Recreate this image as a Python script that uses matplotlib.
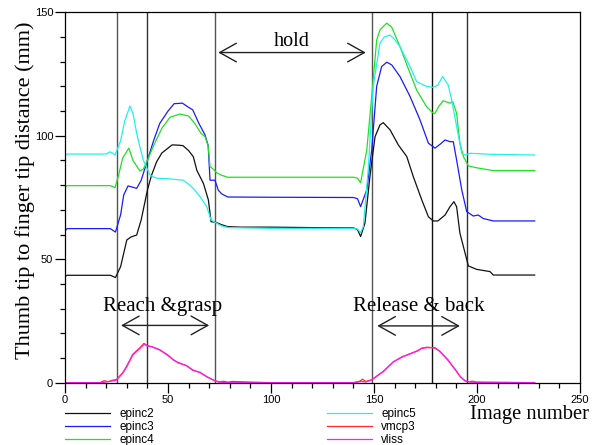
import matplotlib
matplotlib.use("Agg")
import matplotlib.pyplot as plt

# ---------------- data ----------------
epinc2_x = [0, 1, 22, 24.5, 27, 30, 32, 34.8, 37, 40, 42, 44.5, 47, 50, 52, 55, 57.3, 60, 62.3, 64,
            67.2, 69.6, 70.9, 73, 76, 79, 85, 100, 120, 140, 142, 143.5, 145.6, 148, 150.5, 152.9,
            154.5, 157.8, 161.8, 165.9, 169.1, 173.2, 176.4, 178.8, 181, 184.5, 186.9, 188.8, 190.1,
            191.7, 193.4, 195.8, 199.8, 206.3, 207.9, 228]
epinc2_y = [43, 43.5, 43.5, 42.6, 47, 57.8, 59, 59.8, 66, 78, 84, 89.5, 93, 95, 96.3, 96.2, 96, 94,
            91.5, 86, 80.7, 74, 65.2, 65, 64, 63.2, 63, 63, 62.8, 62.7, 62, 59.2, 64.6, 83.4, 99.6,
            104.4, 105.3, 102.4, 96.3, 91.6, 83.4, 74, 67.2, 65.5, 65.5, 67.9, 71.3, 73.3, 71.3, 60.6,
            55.1, 47.3, 45.9, 45, 43.6, 43.6]

epinc3_x = [0, 1, 22, 24.5, 27, 28.5, 30.6, 34.8, 37, 40, 43, 46, 50, 53, 57, 60, 62, 65, 68, 69.5,
            70.4, 72.8, 74.4, 76, 79, 100, 140, 142, 143.5, 146.5, 148.9, 151.3, 153.7, 156.2, 158.6,
            162.6, 167.5, 172.3, 176.4, 179.6, 182, 184.5, 186.9, 188.5, 190.1, 192.6, 195, 198.2,
            200.6, 203, 207.9, 228]
epinc3_y = [61.5, 62.4, 62.4, 61, 68, 76, 79.7, 78.7, 82, 90, 98, 105, 110, 113, 113.2, 111.5, 110.5,
            105, 100.3, 96, 82, 82, 78, 76.5, 75.2, 75.1, 75, 74.5, 71.3, 78.1, 94.3, 120, 128, 129.8,
            128.7, 124, 115.9, 106.5, 97, 95, 96.5, 98.3, 97.6, 97.6, 90.2, 78.1, 69.3, 67.5, 67.9,
            66.5, 65.5, 65.5]

epinc4_x = [0, 1, 22, 24.3, 26, 28, 31, 33, 36.4, 38, 40, 43, 47, 51, 55.8, 60, 63, 66, 68, 69.5,
            70.4, 72, 73.6, 76, 79, 100, 140, 142, 143.5, 146.5, 148.9, 151.3, 153, 156.2, 158.6,
            162.6, 167.5, 170.7, 175.5, 178.8, 179.6, 181.5, 183.6, 186.9, 188.2, 190.1, 191.7,
            193.4, 195.8, 200, 207.9, 228]
epinc4_y = [79.3, 79.8, 79.8, 79, 84, 91, 95, 90, 85.7, 86.5, 90, 96, 103, 107.5, 108.8, 108, 105,
            101, 99.6, 96, 87.5, 86.5, 85, 84, 83.2, 83.2, 83.2, 82.8, 81, 94.3, 116, 138.8, 143,
            145.6, 144, 136.1, 125.3, 118.5, 111.8, 109.1, 109.1, 112, 114.2, 113.2, 113.9, 109.1,
            97, 91.6, 87.8, 87, 85.9, 85.9]

epinc5_x = [0, 1, 20, 21.8, 23, 24.3, 27, 29, 31.5, 33, 34.8, 36.5, 38, 41.3, 44.5, 50, 57.3, 60.7,
            63, 65.5, 68.8, 70.9, 73.6, 76, 79.3, 100, 140, 142, 143.5, 144.8, 147.2, 149.6, 152.9,
            155, 157.8, 160, 162.6, 167.5, 170.7, 175.5, 178.8, 181, 183.3, 186, 187.7, 190.1, 192.6,
            194.2, 196.6, 206.3, 228]
epinc5_y = [92, 92.6, 92.6, 93.5, 93, 92.2, 98, 106, 112, 109, 101, 95, 90.2, 84, 82.8, 82.6, 82,
            80, 78, 75.4, 71.3, 65.9, 64.6, 63.5, 62.8, 62.5, 62.5, 62.2, 60.8, 63.2, 86.2, 120,
            137.5, 140, 140.8, 139, 136.1, 128, 121.9, 120, 119.6, 120.5, 124, 120.6, 114.6, 103.8,
            92.9, 92.2, 92.9, 92.5, 92.2]

vmcp3_x = [0, 17, 19, 21, 23, 25, 28, 30, 32.9, 36.4, 38.3, 40, 42.1, 46.1, 50, 52.6, 55, 59.1, 62,
           65.5, 69, 72.8, 75, 77, 79, 81, 100, 140, 143, 144.5, 146, 148.9, 151, 154.5, 157, 159.4,
           163.4, 168.3, 171, 173.2, 176, 179.6, 182, 186, 190.1, 192, 194.2, 196, 198, 200, 228]
vmcp3_y = [0, 0, 0.8, 0.4, 1.0, 1.3, 4.0, 6.8, 11.5, 14.2, 15.9, 15.0, 14.6, 13.3, 11.0, 9.3, 8.0,
           6.9, 5.0, 4.2, 2.3, 0.8, 0.3, 0.6, 0.2, 0.5, 0, 0, 0.6, 1.4, 0.5, 1.2, 2.4, 4.6, 6.6, 8.4,
           10.4, 12.0, 12.9, 14.0, 14.4, 14.0, 12.7, 9.0, 4.6, 2.3, 0.8, 0.4, 0.6, 0.2, 0]

vliss_x = [0, 18, 20, 22, 24, 25, 28, 30, 32.9, 36.4, 38.5, 40, 42.1, 46.1, 50, 52.6, 55, 59.1, 62,
           65.5, 69, 72.8, 75, 80, 100, 140, 144, 146, 148.9, 151, 154.5, 157, 159.4, 163.4, 168.3,
           171, 173.2, 176, 179.6, 182, 186, 190.1, 192, 194.2, 197, 228]
vliss_y = [0, 0, 0.3, 0.6, 0.8, 1.1, 3.8, 6.5, 11.2, 13.9, 15.6, 14.8, 14.6, 13.2, 11.2, 9.2, 8.2,
           6.8, 5.2, 4.1, 2.4, 0.7, 0.2, 0, 0, 0, 0.5, 0.3, 1.1, 2.5, 4.5, 6.5, 8.5, 10.3, 11.9, 12.8,
           13.9, 14.2, 14.2, 12.6, 9.2, 4.5, 2.4, 0.7, 0.2, 0]

phase_marks = [25, 40, 73, 149, 178, 195]
x_ticks = [0, 50, 100, 150, 200, 250]
y_ticks = [0, 50, 100, 150]

series = [
    ("epinc2", epinc2_x, epinc2_y, "#111111"),
    ("epinc3", epinc3_x, epinc3_y, "#1a1aff"),
    ("epinc4", epinc4_x, epinc4_y, "#22e022"),
    ("epinc5", epinc5_x, epinc5_y, "#22f0f0"),
    ("vmcp3", vmcp3_x, vmcp3_y, "#ff2a2a"),
    ("vliss", vliss_x, vliss_y, "#ff1aff"),
]

# ---------------- figure ----------------
SANS = "Liberation Sans"
SERIF = "Liberation Serif"

fig = plt.figure(figsize=(5.98, 4.45), dpi=100)
ax = fig.add_axes([65 / 598, 1 - 382.7 / 445, 515 / 598, 370.4 / 445])

for xm, col in zip(phase_marks, ["#555555", "#333333", "#555555", "#555555", "#111111", "#333333"]):
    ax.axvline(xm, color=col, lw=1.0, zorder=1)

handles = []
for name, xs, ys, c in series:
    h, = ax.plot(xs, ys, color=c, lw=0.9, label=name, zorder=2)
    handles.append(h)

ax.set_xlim(0, 250)
ax.set_ylim(0, 150)
ax.set_xticks(x_ticks)
ax.set_yticks(y_ticks)
ax.set_xticks(range(0, 251, 10), minor=True)
ax.set_yticks(range(0, 151, 10), minor=True)
ax.tick_params(which="major", direction="out", length=7, width=0.9, labelsize=8, pad=1.5)
ax.tick_params(which="minor", direction="out", length=3.5, width=0.9)
for lab in ax.get_xticklabels() + ax.get_yticklabels():
    lab.set_fontfamily(SANS)
for sp in ax.spines.values():
    sp.set_linewidth(0.9)

# arrows and phase texts
aprops = dict(arrowstyle="<->,head_length=1.2,head_width=0.67", mutation_scale=10,
              color="#222222", lw=1.0, shrinkA=0, shrinkB=0)
ax.annotate("", xy=(74.4, 133.7), xytext=(146, 133.7), arrowprops=aprops)
ax.annotate("", xy=(27.2, 23.2), xytext=(70, 23.2), arrowprops=aprops)
ax.annotate("", xy=(151.6, 23.0), xytext=(191.7, 23.0), arrowprops=aprops)
ax.text(110, 138.2, "hold", family=SERIF, size=14.5, ha="center", va="center")
ax.text(47.6, 30.9, "Reach &grasp", family=SERIF, size=15, ha="center", va="center")
ax.text(171.8, 31.0, "Release & back", family=SERIF, size=15, ha="center", va="center")

fig.text(25 / 598, 1 - 190 / 445, "Thumb tip to finger tip distance (mm)", family=SERIF,
         size=16, rotation=90, ha="center", va="center")
fig.text(529 / 598, 1 - 415 / 445, "Image number", family=SERIF, size=14.8,
         ha="center", va="center")

leg = fig.legend(handles=handles, labels=[s[0] for s in series], ncol=2, frameon=False,
                 loc="upper left", bbox_to_anchor=(65 / 598, 1 - 408 / 445),
                 prop={"family": SANS, "size": 8.5}, handlelength=3.8, handletextpad=0.8,
                 columnspacing=14.65, labelspacing=0.08, borderpad=0, borderaxespad=0)

fig.savefig("out.png", dpi=100)
